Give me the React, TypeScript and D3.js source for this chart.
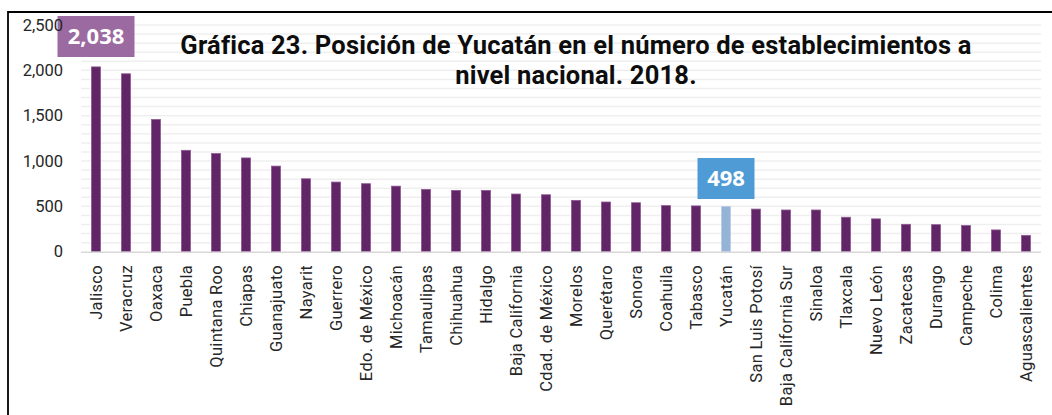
import React, { useEffect, useRef } from "react";
import * as d3 from "d3";

const categories: string[] = [
  "Jalisco", "Veracruz", "Oaxaca", "Puebla", "Quintana Roo", "Chiapas", "Guanajuato",
  "Nayarit", "Guerrero", "Edo. de México", "Michoacán", "Tamaulipas", "Chihuahua",
  "Hidalgo", "Baja California", "Cdad. de México", "Morelos", "Querétaro", "Sonora",
  "Coahuila", "Tabasco", "Yucatán", "San Luis Potosí", "Baja California Sur", "Sinaloa",
  "Tlaxcala", "Nuevo León", "Zacatecas", "Durango", "Campeche", "Colima", "Aguascalientes",
];
const values: number[] = [
  2038, 1962, 1458, 1118, 1082, 1034, 944, 804, 768, 750, 723, 687, 676, 676, 636, 628,
  566, 548, 540, 508, 505, 498, 470, 460, 460, 380, 362, 302, 298, 288, 240, 180,
];
const yTicks: number[] = [0, 500, 1000, 1500, 2000, 2500];
const highlighted: string[] = ["Jalisco", "Yucatán"];
const titleLines: string[] = [
  "Gráfica 23. Posición de Yucatán en el número de establecimientos a",
  "nivel nacional. 2018.",
];

const W = 1052;
const H = 415;

export default function App() {
  const ref = useRef<SVGSVGElement | null>(null);

  useEffect(() => {
    const svg = d3.select(ref.current);
    svg.selectAll("*").remove();

    const left = 81, right = 1041, top = 25, bottom = 251.7;
    const x = d3.scaleBand<string>().domain(categories).range([left, right]).paddingInner(0.7).paddingOuter(0.35);
    const y = d3.scaleLinear().domain([0, 2500]).range([bottom, top]);

    // frame
    svg.append("path")
      .attr("d", `M8,${H} L8,12 L${W},12`)
      .attr("fill", "none").attr("stroke", "#000").attr("stroke-width", 1.8);

    // gridlines every 100
    const grid = d3.range(100, 2501, 100);
    svg.append("g").selectAll("line").data(grid).join("line")
      .attr("x1", left).attr("x2", right)
      .attr("y1", (d) => y(d)).attr("y2", (d) => y(d))
      .attr("stroke", "#efefef").attr("stroke-width", 1.5);

    // bars
    svg.append("g").selectAll("rect").data(categories).join("rect")
      .attr("x", (d) => x(d)!)
      .attr("width", x.bandwidth())
      .attr("y", (d, i) => y(values[i]))
      .attr("height", (d, i) => bottom - y(values[i]))
      .attr("fill", (d) => (d === "Yucatán" ? "#95b3d7" : "#622567"))
      .attr("stroke", (d) => (d === "Yucatán" ? "#b5cbe6" : "#8e5a92"))
      .attr("stroke-width", 0.8);

    // baseline
    svg.append("line").attr("x1", left).attr("x2", right)
      .attr("y1", bottom + 0.5).attr("y2", bottom + 0.5)
      .attr("stroke", "#d9d9d9").attr("stroke-width", 1.5);

    // category labels
    svg.append("g").selectAll("text").data(categories).join("text")
      .attr("transform", (d) => `translate(${x(d)! + x.bandwidth() / 2},265) rotate(-90)`)
      .attr("dy", "0.35em")
      .attr("text-anchor", "end")
      .attr("font-family", "Roboto, sans-serif").attr("font-size", 16.5)
      .attr("letter-spacing", 0.3)
      .attr("fill", "#262626")
      .text((d) => d);

    // highlighted value labels
    const boxes = [
      { name: highlighted[0], w: 77, h: 41, fill: "#9b6aa0", yTop: 16 },
      { name: highlighted[1], w: 57, h: 41, fill: "#4f9bd5", yTop: 158 },
    ];
    boxes.forEach((b) => {
      const i = categories.indexOf(b.name);
      const cx = x(b.name)! + x.bandwidth() / 2;
      const g = svg.append("g");
      g.append("rect").attr("x", cx - b.w / 2).attr("y", b.yTop).attr("width", b.w).attr("height", b.h)
        .attr("fill", b.fill);
      g.append("text").attr("x", cx).attr("y", b.yTop + b.h / 2).attr("dy", "0.36em")
        .attr("text-anchor", "middle").attr("font-family", "'Open Sans', sans-serif")
        .attr("font-weight", 700).attr("font-size", 22).attr("fill", "#fff")
        .text(d3.format(",")(values[i]));
    });

    // y axis labels (drawn above the label boxes)
    svg.append("g").selectAll("text").data(yTicks).join("text")
      .attr("x", 63).attr("y", (d) => y(d)).attr("dy", "0.35em")
      .attr("text-anchor", "end")
      .attr("font-family", "Roboto, sans-serif").attr("font-size", 16.5)
      .attr("fill", "#262626")
      .text((d) => d3.format(",")(d));

    // title
    svg.append("g").selectAll("text").data(titleLines).join("text")
      .attr("x", 576).attr("y", (d, i) => 45 + i * 30).attr("dy", "0.35em")
      .attr("text-anchor", "middle").attr("font-family", "Roboto, sans-serif")
      .attr("font-weight", 700).attr("font-size", 25.5).attr("fill", "#0d0d0d")
      .attr("letter-spacing", 0.2)
      .text((d) => d);
  }, []);

  return (
    <div style={{ position: "absolute", left: 0, top: 0, width: W, height: H }}>
      <svg ref={ref} width={W} height={H} style={{ display: "block", background: "#fff" }} />
    </div>
  );
}
